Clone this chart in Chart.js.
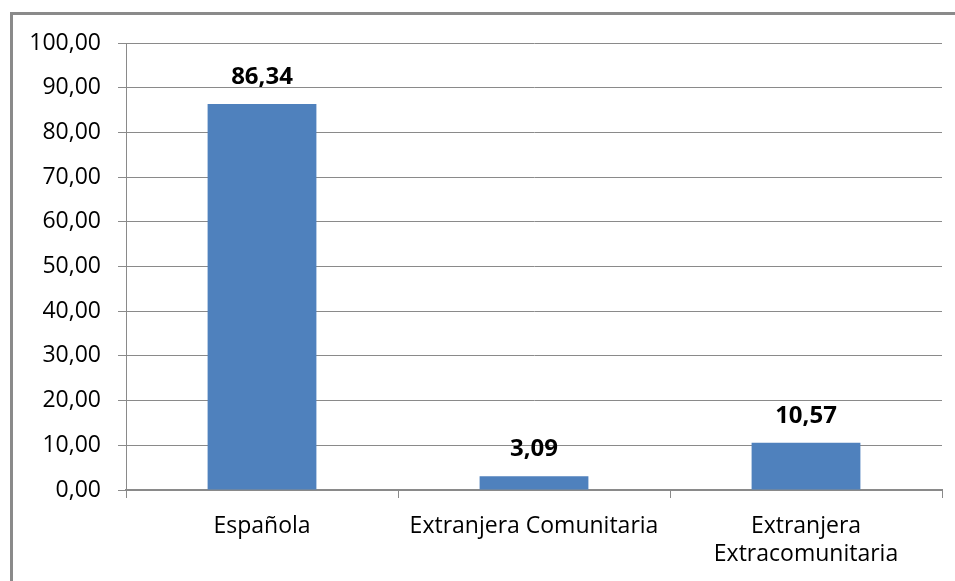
<!DOCTYPE html>
<html>
<head>
<meta charset="utf-8">
<script src="https://cdn.jsdelivr.net/npm/chart.js@4/dist/chart.umd.min.js"></script>
<style>
  html, body { margin: 0; padding: 0; background: #fff; overflow: hidden; }
  #frame { position: absolute; left: 10px; top: 12px; width: 960px; height: 600px; border: 3px solid #8a8a8a; box-sizing: border-box; }
  #wrap { position: absolute; left: 0; top: 0; width: 955px; height: 581px; }
</style>
</head>
<body>
<div id="frame"></div>
<div id="wrap"><canvas id="chart" width="955" height="581"></canvas></div>
<script>
// Categories and values
const categories = ["Española", "Extranjera Comunitaria", ["Extranjera", "Extracomunitaria"]];
const values = [86.34, 3.09, 10.57];
const yTicks = [0, 10, 20, 30, 40, 50, 60, 70, 80, 90, 100];

const fontFamily = "'Open Sans', 'DejaVu Sans', sans-serif";
const fmt = (v) => v.toFixed(2).replace(".", ",");

// Draw value labels above the bars
const valueLabels = {
  id: "valueLabels",
  afterDatasetsDraw(chart) {
    const ctx = chart.ctx;
    const meta = chart.getDatasetMeta(0);
    ctx.save();
    ctx.font = "bold 24px " + fontFamily;
    ctx.fillStyle = "#000";
    ctx.textAlign = "center";
    ctx.textBaseline = "alphabetic";
    meta.data.forEach((bar, i) => {
      ctx.fillText(fmt(values[i]), bar.x, bar.y - 20);
    });
    ctx.restore();
  },
};

const ctx = document.getElementById("chart").getContext("2d");
const chart = new Chart(ctx, {
  type: "bar",
  data: {
    labels: categories,
    datasets: [
      {
        data: values,
        backgroundColor: "#4F81BD",
        borderWidth: 0,
        barPercentage: 0.4,
        categoryPercentage: 1,
      },
    ],
  },
  plugins: [valueLabels],
  options: {
    responsive: false,
    animation: false,
    layout: { padding: { left: 0, right: 13, top: 43, bottom: 0 } },
    plugins: { legend: { display: false }, tooltip: { enabled: false } },
    scales: {
      x: {
        grid: {
          drawOnChartArea: false,
          drawTicks: true,
          tickLength: 8,
          color: "#8a8a8a",
        },
        border: { color: "#8a8a8a", width: 2 },
        ticks: {
          color: "#000",
          padding: 14,
          maxRotation: 0,
          font: { family: fontFamily, size: 23, lineHeight: 1.22 },
        },
        afterFit: (scale) => { scale.height = 91; },
      },
      y: {
        min: 0,
        max: 100,
        afterBuildTicks: (scale) => { scale.ticks = yTicks.map((v) => ({ value: v })); },
        grid: { color: "#8a8a8a", tickLength: 8 },
        border: { color: "#8a8a8a", width: 1 },
        ticks: {
          color: "#000",
          padding: 17,
          font: { family: fontFamily, size: 23 },
          callback: (v) => fmt(v),
        },
        afterFit: (scale) => { scale.width = 126; },
      },
    },
  },
});
</script>
</body>
</html>
